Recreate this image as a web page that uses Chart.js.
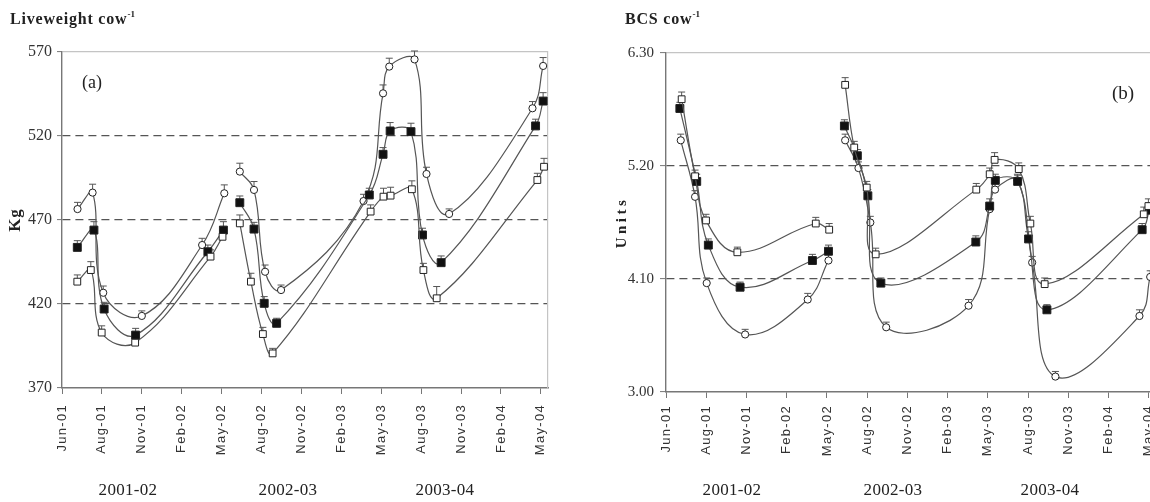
<!DOCTYPE html>
<html>
<head>
<meta charset="utf-8">
<script src="https://cdn.jsdelivr.net/npm/chart.js@4/dist/chart.umd.min.js"></script>
<style>
  html, body { margin: 0; padding: 0; background: #fff; overflow: hidden; }
  #wrap { position: relative; width: 1150px; height: 502px; overflow: hidden; background: #fff; }
  canvas { position: absolute; top: 0; }
  #lw { left: 0; }
  #bcs { left: 580px; }
  .txt { position: absolute; font-family: "Liberation Serif", "Times New Roman", serif; color: #222; white-space: nowrap; line-height: 1; }
  .head { font-weight: bold; font-size: 16px; top: 11px; letter-spacing: 0.8px; }
  .head sup { font-size: 9px; letter-spacing: 0; position: relative; top: -1px; }
  .tag { font-size: 18px; }
  .season { font-size: 17px; top: 481px; transform: translateX(-50%); letter-spacing: 0.3px; }
</style>
</head>
<body>
<div id="wrap">
  <canvas id="lw" width="580" height="502"></canvas>
  <canvas id="bcs" width="600" height="502"></canvas>

  <div class="txt head" style="left:10px">Liveweight cow<sup>-1</sup></div>
  <div class="txt head" style="left:625px">BCS cow<sup>-1</sup></div>
  <div class="txt tag" style="left:82px;top:73px">(a)</div>
  <div class="txt tag" style="left:1112px;top:83px;font-size:19px">(b)</div>
  <div id="seasonsA"></div>
  <div id="seasonsB"></div>
</div>

<script>
// Time axis: days since 1 June 2001, labelled every 90 days
const tickDays   = [0, 90, 180, 270, 360, 450, 540, 630, 720, 810, 900, 990, 1080];
const tickLabels = ['Jun-01','Aug-01','Nov-01','Feb-02','May-02','Aug-02','Nov-02','Feb-03','May-03','Aug-03','Nov-03','Feb-04','May-04'];
const lastDay = 1096;

const seasons = ['2001-02', '2002-03', '2003-04'];
const seasonXA = [128, 288, 445];
const seasonXB = [732, 893, 1050];

// (a) Liveweight, kg per cow  (null = break between lactations)
const lwTicks = [370, 420, 470, 520, 570];

const lwCircDays = [35, 69, 93, 180, 316, 366, 383, 401, 433, 458, 494, 680, 724, 738, 795, 822, 873, 1061, 1085];
const lwCircKg   = [476.5, 486.3, 426.7, 412.9, 455.1, 485.9, null, 498.8, 487.9, 439.2, 428.3, 481.3, 545.4, 561.3, 565.6, 497.4, 473.6, 536.5, 561.7];
const lwCircSe   = [4, 5, 4, 3, 4, 5, null, 5, 5, 4, 3, 4, 5, 5, 5, 4, 3, 4, 5];

const lwFillDays = [34.5, 72, 95, 166, 329, 364, 383, 401, 433, 456, 484, 693, 724, 740, 787, 813, 855, 1068, 1085];
const lwFillKg   = [453.7, 464, 417, 401.5, 451.1, 464, null, 480.3, 464.6, 420.4, 408.5, 484.9, 509.1, 523, 522.6, 461.1, 444.6, 526, 540.8];
const lwFillSe   = [4, 5, 4, 4, 4, 5, null, 4, 4, 4, 3, 4, 4, 5, 5, 4, 4, 4, 5];

const lwOpenDays = [34.5, 65, 89.5, 165, 335, 362, 383, 401, 426, 453, 475, 696, 725, 741, 789, 815, 845, 1072, 1087];
const lwOpenKg   = [433.3, 440.2, 403, 397, 448.2, 460, null, 468, 433.3, 402.1, 390.6, 475, 483.9, 484.5, 488.3, 440.2, 423.4, 493.8, 501.7];
const lwOpenSe   = [4, 5, 4, 3, 4, 4, null, 5, 5, 4, 3, 4, 5, 5, 5, 4, 7, 4, 5];

// (b) Body condition score, units per cow
const bcsTicks = [3.00, 4.10, 5.20, 6.30];

const bcsCircDays = [33, 65, 91, 177, 317, 363.4, 383, 400.7, 430.5, 457, 492.5, 676.8, 724, 736, 786, 819, 871, 1059, 1083];
const bcsCircVal  = [5.45, 4.90, 4.06, 3.56, 3.90, 4.28, null, 5.45, 5.18, 4.65, 3.63, 3.84, 4.78, 4.97, 5.06, 4.26, 3.15, 3.74, 4.12];
const bcsCircSe   = [0.06, 0.06, 0.05, 0.05, 0.06, 0.06, null, 0.06, 0.06, 0.06, 0.05, 0.06, 0.06, 0.06, 0.06, 0.06, 0.05, 0.06, 0.06];

const bcsFillDays = [31, 68.7, 94.7, 165.7, 327.5, 363.4, 383, 399, 428, 451.5, 480.6, 693, 724, 736.6, 786.5, 811, 852, 1065, 1081];
const bcsFillVal  = [5.76, 5.05, 4.43, 4.02, 4.28, 4.37, null, 5.59, 5.30, 4.91, 4.06, 4.46, 4.81, 5.06, 5.05, 4.49, 3.80, 4.58, 4.77];
const bcsFillSe   = [0.06, 0.07, 0.06, 0.05, 0.06, 0.06, null, 0.06, 0.06, 0.06, 0.05, 0.06, 0.07, 0.06, 0.06, 0.07, 0.05, 0.06, 0.07];

const bcsOpenDays = [35, 65, 89.5, 159.6, 335, 365, 383, 400.7, 421, 449, 469, 694, 724, 735, 789, 815, 847, 1068.6, 1079];
const bcsOpenVal  = [5.85, 5.10, 4.67, 4.36, 4.64, 4.58, null, 5.99, 5.38, 4.99, 4.34, 4.97, 5.12, 5.26, 5.17, 4.64, 4.05, 4.73, 4.81];
const bcsOpenSe   = [0.07, 0.06, 0.06, 0.05, 0.06, 0.06, null, 0.07, 0.06, 0.06, 0.06, 0.06, 0.06, 0.07, 0.06, 0.07, 0.06, 0.07, 0.07];

// marker styles for the three treatments
const CIRCLE = { shape: 'circle', r: 3.6, fill: '#ffffff' };
const SOLID  = { shape: 'rect',   r: 5.6, fill: '#111111' };
const HOLLOW = { shape: 'rect',   r: 4.8, fill: '#ffffff' };

function series(days, vals, se, mark) {
  return {
    data: days.map((d, i) => ({ x: d, y: vals[i] })),
    se: se,
    borderColor: '#555',
    borderWidth: 1.2,
    tension: 0.4,
    fill: false,
    spanGaps: false,
    pointStyle: mark.shape,
    pointRadius: mark.r,
    pointBackgroundColor: mark.fill,
    pointBorderColor: '#222',
    pointBorderWidth: 1
  };
}

// upper standard-error whiskers, drawn under the markers
const errorBars = {
  id: 'errorBars',
  beforeDatasetsDraw(chart) {
    const ctx = chart.ctx;
    const ys = chart.scales.y;
    ctx.save();
    ctx.strokeStyle = '#555';
    ctx.lineWidth = 1;
    chart.data.datasets.forEach((ds, di) => {
      const meta = chart.getDatasetMeta(di);
      meta.data.forEach((pt, j) => {
        const v = ds.data[j].y, e = ds.se[j];
        if (v == null || e == null) return;
        const top = ys.getPixelForValue(v + e);
        ctx.beginPath();
        ctx.moveTo(pt.x, pt.y);
        ctx.lineTo(pt.x, top);
        ctx.moveTo(pt.x - 3.5, top);
        ctx.lineTo(pt.x + 3.5, top);
        ctx.stroke();
      });
    });
    ctx.restore();
  }
};

// spaced lettering for the date labels and the vertical axis title
function spaced(scale, method, px) {
  const flag = '_spaced_' + method;
  if (scale[flag]) return;
  const orig = scale[method];
  scale[method] = function (...args) {
    const c = this.ctx, prev = c.letterSpacing;
    c.letterSpacing = px;
    orig.apply(this, args);
    c.letterSpacing = prev;
  };
  scale[flag] = true;
}
const lettering = {
  id: 'lettering',
  beforeDraw(chart) {
    spaced(chart.scales.x, 'drawLabels', '1.3px');
    spaced(chart.scales.y, 'drawTitle', chart.options.yTitleSpacing || '1px');
  }
};

function buildChart(id, cfg) {
  const top = cfg.ticks[cfg.ticks.length - 1];
  const bottom = cfg.ticks[0];
  return new Chart(document.getElementById(id), {
    type: 'line',
    data: { datasets: cfg.datasets },
    plugins: [errorBars, lettering],
    options: {
      responsive: false,
      animation: false,
      events: [],
      yTitleSpacing: cfg.titleSpacing,
      layout: { padding: cfg.padding },
      plugins: { legend: { display: false }, tooltip: { enabled: false } },
      scales: {
        x: {
          type: 'linear', min: 0, max: lastDay,
          afterBuildTicks: s => { s.ticks = tickDays.map(v => ({ value: v })); },
          afterFit: s => { s.height = cfg.xHeight; },
          ticks: {
            autoSkip: false, maxRotation: 90, minRotation: 90, padding: cfg.xPad,
            color: '#333',
            font: { family: '"Liberation Sans", Arial, sans-serif', size: 13 },
            callback: (v, i) => tickLabels[i]
          },
          grid: { drawOnChartArea: false, drawTicks: true, tickLength: 6, tickColor: '#777', tickWidth: 1 },
          border: { color: '#777', width: 1.4 }
        },
        y: {
          type: 'linear', min: bottom, max: top,
          afterBuildTicks: s => { s.ticks = cfg.ticks.map(v => ({ value: v })); },
          afterFit: s => { s.width = cfg.yWidth; },
          ticks: {
            padding: cfg.yPad, color: '#333',
            font: { family: '"Liberation Serif", "Times New Roman", serif', size: cfg.yFont },
            callback: cfg.fmt
          },
          grid: {
            drawTicks: true, tickLength: cfg.yTick, tickColor: '#777', tickWidth: 1, lineWidth: 1.2,
            color: c => c.tick && c.tick.value === top ? '#c4c4c4'
                     : (c.tick && c.tick.value === bottom ? 'rgba(0,0,0,0)' : '#555')
          },
          border: {
            color: '#777', width: 1.4,
            dash: c => (c.tick && c.tick.value === top) ? [] : [8, 5]
          },
          title: {
            display: true, text: cfg.title, color: '#222', padding: { top: 5, bottom: 4 },
            font: { family: '"Liberation Serif", "Times New Roman", serif', size: cfg.titleSize, weight: 'bold' }
          }
        },
        yEdge: {
          position: 'right', min: bottom, max: top,
          ticks: { display: false },
          grid: { drawOnChartArea: false, drawTicks: false },
          border: { display: true, color: '#c4c4c4', width: 1.2 },
          afterFit: s => { s.width = 0; }
        }
      }
    }
  });
}

buildChart('lw', {
  ticks: lwTicks,
  title: 'Kg',
  titleSize: 17,
  titleSpacing: '1px',
  fmt: v => String(v),
  padding: { top: 52, left: 0, right: 32, bottom: 0 },
  yWidth: 62, yTick: 5, yPad: 5, yFont: 16,
  xHeight: 114, xPad: 10,
  datasets: [
    series(lwOpenDays, lwOpenKg, lwOpenSe, HOLLOW),
    series(lwFillDays, lwFillKg, lwFillSe, SOLID),
    series(lwCircDays, lwCircKg, lwCircSe, CIRCLE)
  ]
});

buildChart('bcs', {
  ticks: bcsTicks,
  title: 'Units',
  titleSize: 15,
  titleSpacing: '3.5px',
  fmt: v => Number(v).toFixed(2),
  padding: { top: 53, left: 28, right: 24, bottom: 0 },
  yWidth: 58, yTick: 6, yPad: 6, yFont: 15,
  xHeight: 110, xPad: 7,
  datasets: [
    series(bcsOpenDays, bcsOpenVal, bcsOpenSe, HOLLOW),
    series(bcsFillDays, bcsFillVal, bcsFillSe, SOLID),
    series(bcsCircDays, bcsCircVal, bcsCircSe, CIRCLE)
  ]
});

// lactation season captions under each time axis
function captions(holderId, xs) {
  const holder = document.getElementById(holderId);
  seasons.forEach((s, i) => {
    const d = document.createElement('div');
    d.className = 'txt season';
    d.style.left = xs[i] + 'px';
    d.textContent = s;
    holder.appendChild(d);
  });
}
captions('seasonsA', seasonXA);
captions('seasonsB', seasonXB);
</script>
</body>
</html>
